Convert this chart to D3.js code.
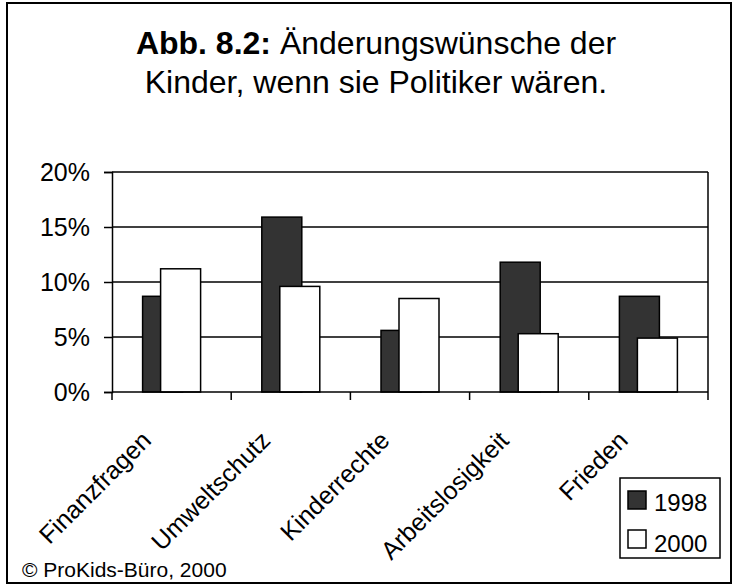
<!DOCTYPE html>
<html>
<head>
<meta charset="utf-8">
<script src="https://cdn.jsdelivr.net/npm/d3@7.9.0/dist/d3.min.js"></script>
<style>
  body { margin: 0; background: #fff; }
  svg { display: block; font-family: Arial, "Liberation Sans", sans-serif; }
</style>
</head>
<body>
<svg id="chart" width="734" height="586"></svg>
<script>
// data
const categories = ['Finanzfragen', 'Umweltschutz', 'Kinderrechte', 'Arbeitslosigkeit', 'Frieden'];
const years = ['1998', '2000'];
const values1998 = [0.087, 0.159, 0.056, 0.118, 0.087];
const values2000 = [0.112, 0.096, 0.085, 0.053, 0.049];
const yTicks = [0, 0.05, 0.10, 0.15, 0.20];
const yearColors = ['#333333', '#ffffff'];

const svg = d3.select('#chart');

// outer frame
svg.append('rect')
    .attr('x', 7).attr('y', 3)
    .attr('width', 724).attr('height', 580)
    .attr('fill', 'none')
    .attr('stroke', '#000')
    .attr('stroke-width', 2);

// title
let title = svg.append('text')
    .attr('x', 376)
    .attr('y', 54)
    .attr('text-anchor', 'middle')
    .attr('font-size', 32);
title.append('tspan').attr('font-weight', 'bold').text('Abb. 8.2:');
title.append('tspan').text(' Änderungswünsche der');
svg.append('text')
    .attr('x', 376)
    .attr('y', 93)
    .attr('text-anchor', 'middle')
    .attr('font-size', 32)
    .text('Kinder, wenn sie Politiker wären.');

const x = d3.scaleBand().domain(categories).range([112, 708]);
const y = d3.scaleLinear().domain([0, 0.2]).range([392, 172]);
const offset = d3.scalePoint().domain(years).range([-9, 9]);
const barW = 40;

// gridlines
svg.append('g')
    .selectAll('line')
    .data(yTicks.slice(1))
    .join('line')
    .attr('x1', 112).attr('x2', 708)
    .attr('y1', (d) => y(d)).attr('y2', (d) => y(d))
    .attr('stroke', '#000')
    .attr('stroke-width', 1.5);

// right border of plot
svg.append('line')
    .attr('x1', 708).attr('x2', 708)
    .attr('y1', y(0.2)).attr('y2', y(0))
    .attr('stroke', '#000')
    .attr('stroke-width', 1.5);

// bars, 2000 drawn on top of 1998
const series = [values1998, values2000];
series.forEach((vals, si) => {
    svg.append('g')
        .selectAll('rect')
        .data(vals)
        .join('rect')
        .attr('x', (d, i) => x(categories[i]) + x.bandwidth() / 2 + offset(years[si]) - barW / 2)
        .attr('y', (d) => y(d))
        .attr('width', barW)
        .attr('height', (d) => y(0) - y(d))
        .attr('fill', yearColors[si])
        .attr('stroke', '#000')
        .attr('stroke-width', 1.5);
});

// y axis
const yAxis = svg.append('g')
    .attr('transform', 'translate(112,0)')
    .call(d3.axisLeft(y).tickValues(yTicks).tickFormat(d3.format('.0%')).tickSize(8).tickPadding(14));
yAxis.select('.domain').attr('stroke-width', 1.5);
yAxis.selectAll('.tick line').attr('stroke-width', 1.5);
yAxis.selectAll('.tick text')
    .attr('font-size', 25)
    .attr('font-family', 'Arial, "Liberation Sans", sans-serif')
    .attr('fill', '#000');

// x axis with ticks at category boundaries
const bounds = categories.map((c) => x(c)).concat([x.range()[1]]);
svg.append('line')
    .attr('x1', 112).attr('x2', 708)
    .attr('y1', y(0)).attr('y2', y(0))
    .attr('stroke', '#000')
    .attr('stroke-width', 1.5);
svg.append('g')
    .selectAll('line')
    .data(bounds)
    .join('line')
    .attr('x1', (d) => d).attr('x2', (d) => d)
    .attr('y1', y(0)).attr('y2', y(0) + 8)
    .attr('stroke', '#000')
    .attr('stroke-width', 1.5);

// rotated category labels
svg.append('g')
    .selectAll('text')
    .data(categories)
    .join('text')
    .attr('text-anchor', 'end')
    .attr('font-size', 25)
    .attr('transform', (d) => `translate(${x(d) + x.bandwidth() / 2 - 19},442) rotate(-45)`)
    .text((d) => d);

// legend
const legend = svg.append('g').attr('transform', 'translate(620,478)');
legend.append('rect')
    .attr('width', 100).attr('height', 80)
    .attr('fill', '#fff')
    .attr('stroke', '#000')
    .attr('stroke-width', 1.5);
years.forEach((yr, i) => {
    legend.append('rect')
        .attr('x', 8).attr('y', 13 + i * 39)
        .attr('width', 18).attr('height', 18)
        .attr('fill', yearColors[i])
        .attr('stroke', '#000')
        .attr('stroke-width', 1.5);
    legend.append('text')
        .attr('x', 34).attr('y', 33 + i * 41)
        .attr('font-size', 24)
        .text(yr);
});

// source note
svg.append('text')
    .attr('x', 22)
    .attr('y', 577)
    .attr('font-size', 21)
    .text('© ProKids-Büro, 2000');
</script>
</body>
</html>
